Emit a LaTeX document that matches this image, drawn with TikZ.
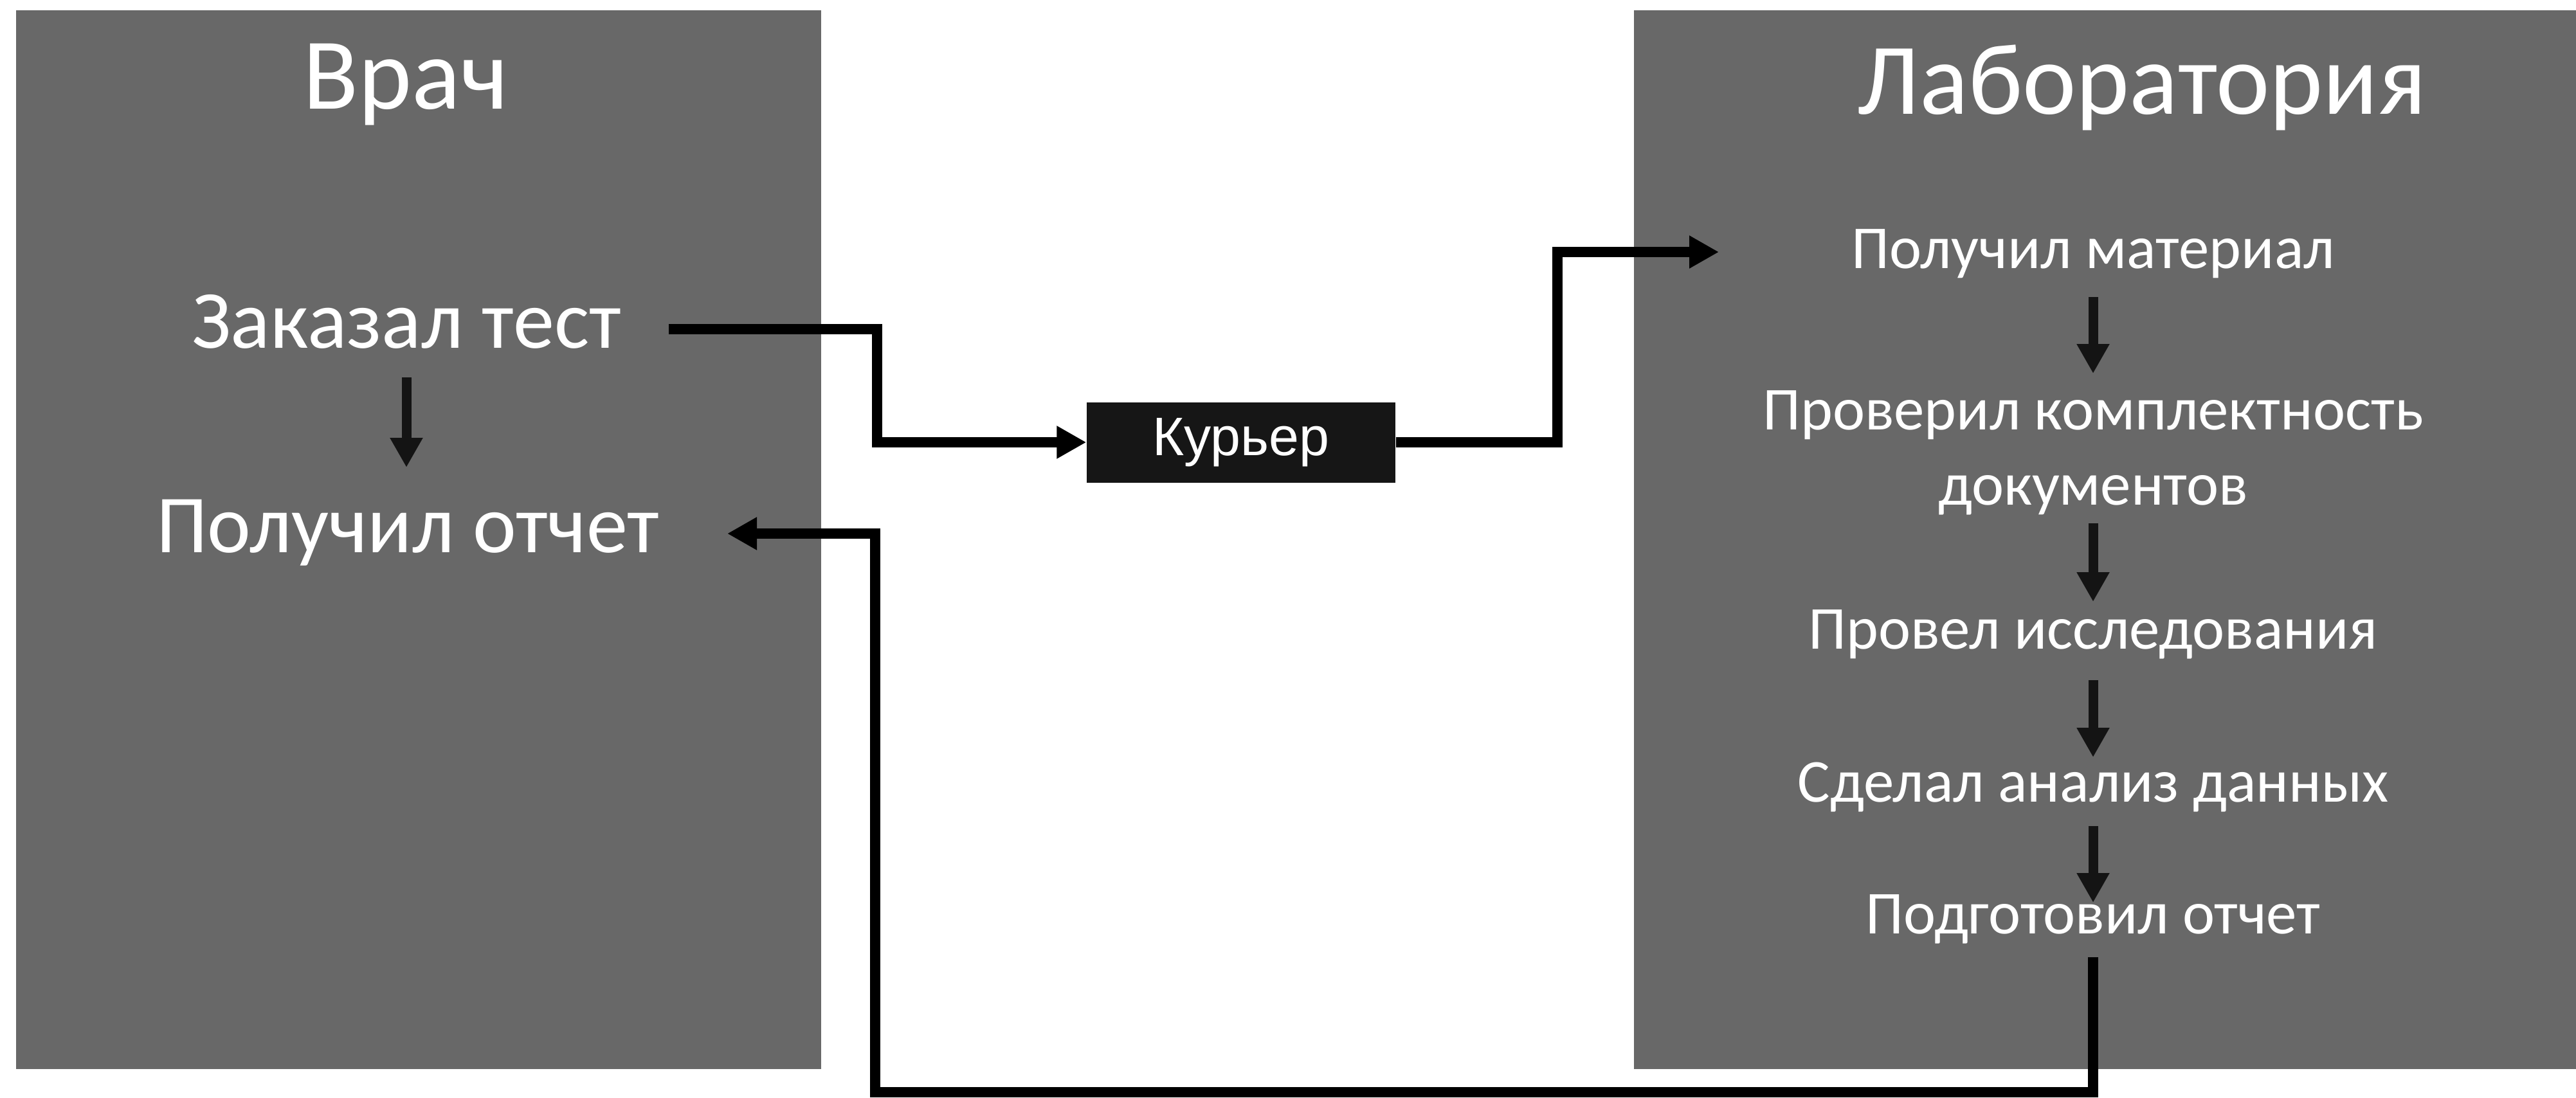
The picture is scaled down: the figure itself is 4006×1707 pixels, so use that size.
\documentclass[tikz,border=0pt]{standalone}
\usepackage{fontspec}
\setmainfont{Carlito}
\newfontfamily\arialfont{Liberation Sans}
\usetikzlibrary{calc, arrows.meta, positioning}
\definecolor{boxgray}{RGB}{104,104,104}
\definecolor{darkbox}{RGB}{22,22,22}
\definecolor{arrowdark}{RGB}{20,20,20}

\begin{document}
\begin{tikzpicture}[x=0.1mm, y=-0.1mm,
        hd/.style={text=white, anchor=base, inner sep=0, font=\fontsize{45}{52}\selectfont},
        n/.style={text=white, anchor=base, inner sep=0, font=\fontsize{36.5}{43}\selectfont},
        n2/.style={text=white, anchor=base, inner sep=0, font=\fontsize{27}{32}\selectfont},
        kbox/.style={fill=darkbox, text=white, minimum width=48mm, minimum height=12.5mm, inner sep=0, font=\arialfont\fontsize{24}{28}\selectfont},
        e/.style={-{Triangle[length=4.6mm, width=4.8mm]}, line width=1.6mm, black},
        e2/.style={-{Triangle[length=4.6mm, width=4.8mm]}, line width=1.5mm, arrowdark}]
        \useasboundingbox (0,0) rectangle (4006,1707);
        \fill[boxgray] (25,16) rectangle (1277,1663);
        \fill[boxgray] (2541,16) rectangle (4006,1663);

        \node[hd] (vrach) at (631,169) {Врач};
        \node[hd] (lab) at (3331,177) {Лаборатория};
        \node[n] (zakaz) at (632,541) {Заказал тест};
        \node[n] (otchet) at (634,859) {Получил отчет};
        \node[kbox] (kur) at (1930,688) {Курьер};

        \foreach \y/\name/\txt in {417/mat/Получил материал, 668/check/Проверил комплектность, 785/docs/документов,
                1009/issl/Провел исследования, 1247/anal/Сделал анализ данных, 1452/podg/Подготовил отчет}
        \node[n2] (\name) at (3255,\y) {\txt};

        \foreach \a/\b/\s/\t in {zakaz/otchet/46/132, mat/check/45/87, docs/issl/29/73, issl/anal/49/69, anal/podg/38/48}
        \draw[e2] ($(\a.base)+(0,\s)$) -- ($(\a.base |- \b.base)-(0,\t)$);

        \draw[e] ($(zakaz.base)+(408,-29)$) -- ++(324,0) |- (kur.west);
        \draw[e] (kur.east) -- ++(251,0) |- ($(mat.base)+(-582,-25)$);
        \draw[e] ($(podg.base)+(0,37)$) |- (1361,1699) |- ($(otchet.base)+(497,-29)$);
      \end{tikzpicture}
\end{document}
